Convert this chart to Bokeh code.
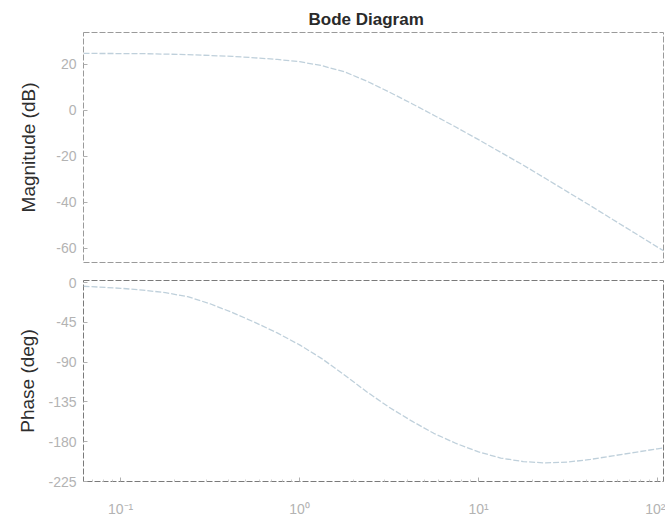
from bokeh.plotting import figure
from bokeh.layouts import column
from bokeh.models import FixedTicker, CustomJSTickFormatter, Range1d
from bokeh.embed import file_html
from bokeh.resources import INLINE

# ---- data ----
freq = [0.062, 0.1, 0.133, 0.178, 0.237, 0.316, 0.422, 0.562, 0.750, 1.0,
        1.33, 1.78, 2.37, 3.16, 4.22, 5.62, 7.50, 10.0, 13.3, 17.8,
        23.7, 31.6, 42.2, 56.2, 75.0, 100.0, 108.0]
mag_db = [24.8, 24.75, 24.7, 24.5, 24.3, 23.9, 23.5, 22.9, 22.2, 21.2,
          19.5, 16.8, 12.8, 8.05, 3.05, -2.07, -7.3, -12.7, -18.2, -23.8,
          -29.6, -35.5, -41.4, -47.4, -53.4, -59.4, -61.0]
phase_deg = [-4.2, -6.5, -8.5, -11.5, -16.0, -24.0, -34.0, -45.0, -57.0, -70.5,
             -86.0, -104.5, -123.5, -141.0, -156.5, -170.5, -182.0, -191.5, -198.5, -202.5,
             -204.0, -203.0, -200.0, -196.0, -192.0, -188.0, -187.0]
mag_ticks = [-60, -40, -20, 0, 20]
mag_tick_labels = ["-60", "-40", "-20", "0", "20"]
phase_ticks = [-225, -180, -135, -90, -45, 0]
phase_tick_labels = ["-225", "-180", "-135", "-90", "-45", "0"]
freq_ticks = [0.1, 1.0, 10.0, 100.0]
freq_tick_labels = ["10\u207b\u00b9", "10\u2070", "10\u00b9", "10\u00b2"]
title_text = "Bode Diagram"
mag_label = "Magnitude (dB)"
phase_label = "Phase (deg)"

# ---- styling ----
FONT = "Liberation Sans"
CURVE = "#bfd0db"
TICKLAB = "#b3b3b3"
TICK = "#b0b0b0"
W = 665
X_RANGE = (0.062, 108.0)
minor = [m * 10.0 ** e for e in range(-2, 3) for m in range(2, 10)
         if X_RANGE[0] <= m * 10.0 ** e <= X_RANGE[1]]


def style_y(p, ticks, labels, label, als):
    ax = p.yaxis[0]
    ax.ticker = FixedTicker(ticks=ticks)
    ax.major_label_overrides = {t: s for t, s in zip(ticks, labels)}
    ax.axis_label = label
    ax.axis_label_text_font = FONT
    ax.axis_label_text_font_size = "19px"
    ax.axis_label_text_font_style = "normal"
    ax.axis_label_text_color = "#2e2e2e"
    ax.axis_label_standoff = als
    ax.major_label_text_font = FONT
    ax.major_label_text_font_size = "14px"
    ax.major_label_text_color = TICKLAB
    ax.major_label_standoff = 7
    ax.major_tick_in = 4
    ax.major_tick_out = 0
    ax.major_tick_line_color = TICK
    ax.minor_tick_line_color = None
    ax.axis_line_color = None


# ---- magnitude ----
p1 = figure(width=W, height=271, x_axis_type="log", x_range=Range1d(*X_RANGE),
            y_range=Range1d(-66.1, 33.9), output_backend="svg", toolbar_location=None,
            min_border_left=83, min_border_right=2, min_border_top=32, min_border_bottom=9)
p1.line(freq, mag_db, line_color=CURVE, line_width=1.3, line_dash="6 2")
p1.xaxis.visible = False
style_y(p1, mag_ticks, mag_tick_labels, mag_label, 14)
p1.title.text = title_text
p1.title.align = "left"
p1.title.offset = 225
p1.title.text_font = FONT
p1.title.text_font_size = "17px"
p1.title.text_font_style = "bold"
p1.title.text_color = "#2a2a2a"
p1.title.standoff = 7
p1.grid.visible = False
p1.outline_line_color = "#9a9a9a"
p1.outline_line_dash = "6 2"
p1.background_fill_color = "white"
p1.border_fill_color = "white"

# ---- phase ----
p2 = figure(width=W, height=250, x_axis_type="log", x_range=p1.x_range,
            y_range=Range1d(-225, 2.3), output_backend="svg", toolbar_location=None,
            min_border_left=83, min_border_right=2, min_border_top=9, min_border_bottom=40)
p2.line(freq, phase_deg, line_color=CURVE, line_width=1.3, line_dash="6 2")
style_y(p2, phase_ticks, phase_tick_labels, phase_label, 7)
xa = p2.xaxis[0]
xa.ticker = FixedTicker(ticks=freq_ticks, minor_ticks=minor)
xa.formatter = CustomJSTickFormatter(args=dict(vals=freq_ticks, labs=freq_tick_labels), code="""
for (let i = 0; i < vals.length; i++) {
  if (Math.abs(Math.log10(tick) - Math.log10(vals[i])) < 1e-6) { return labs[i]; }
}
return "";
""")
xa.major_label_text_font = FONT
xa.major_label_text_font_size = "14px"
xa.major_label_text_color = TICKLAB
xa.major_label_standoff = 19
xa.major_tick_in = 4
xa.major_tick_out = 0
xa.minor_tick_in = 2
xa.minor_tick_out = 0
xa.major_tick_line_color = TICK
xa.minor_tick_line_color = "#d0d0d0"
xa.axis_line_color = None
p2.grid.visible = False
p2.outline_line_color = "#7a7a7a"
p2.outline_line_dash = "6 2"
p2.background_fill_color = "white"
p2.border_fill_color = "white"

layout = column(p1, p2, spacing=0)
open("out.html", "w").write(file_html(layout, INLINE))
